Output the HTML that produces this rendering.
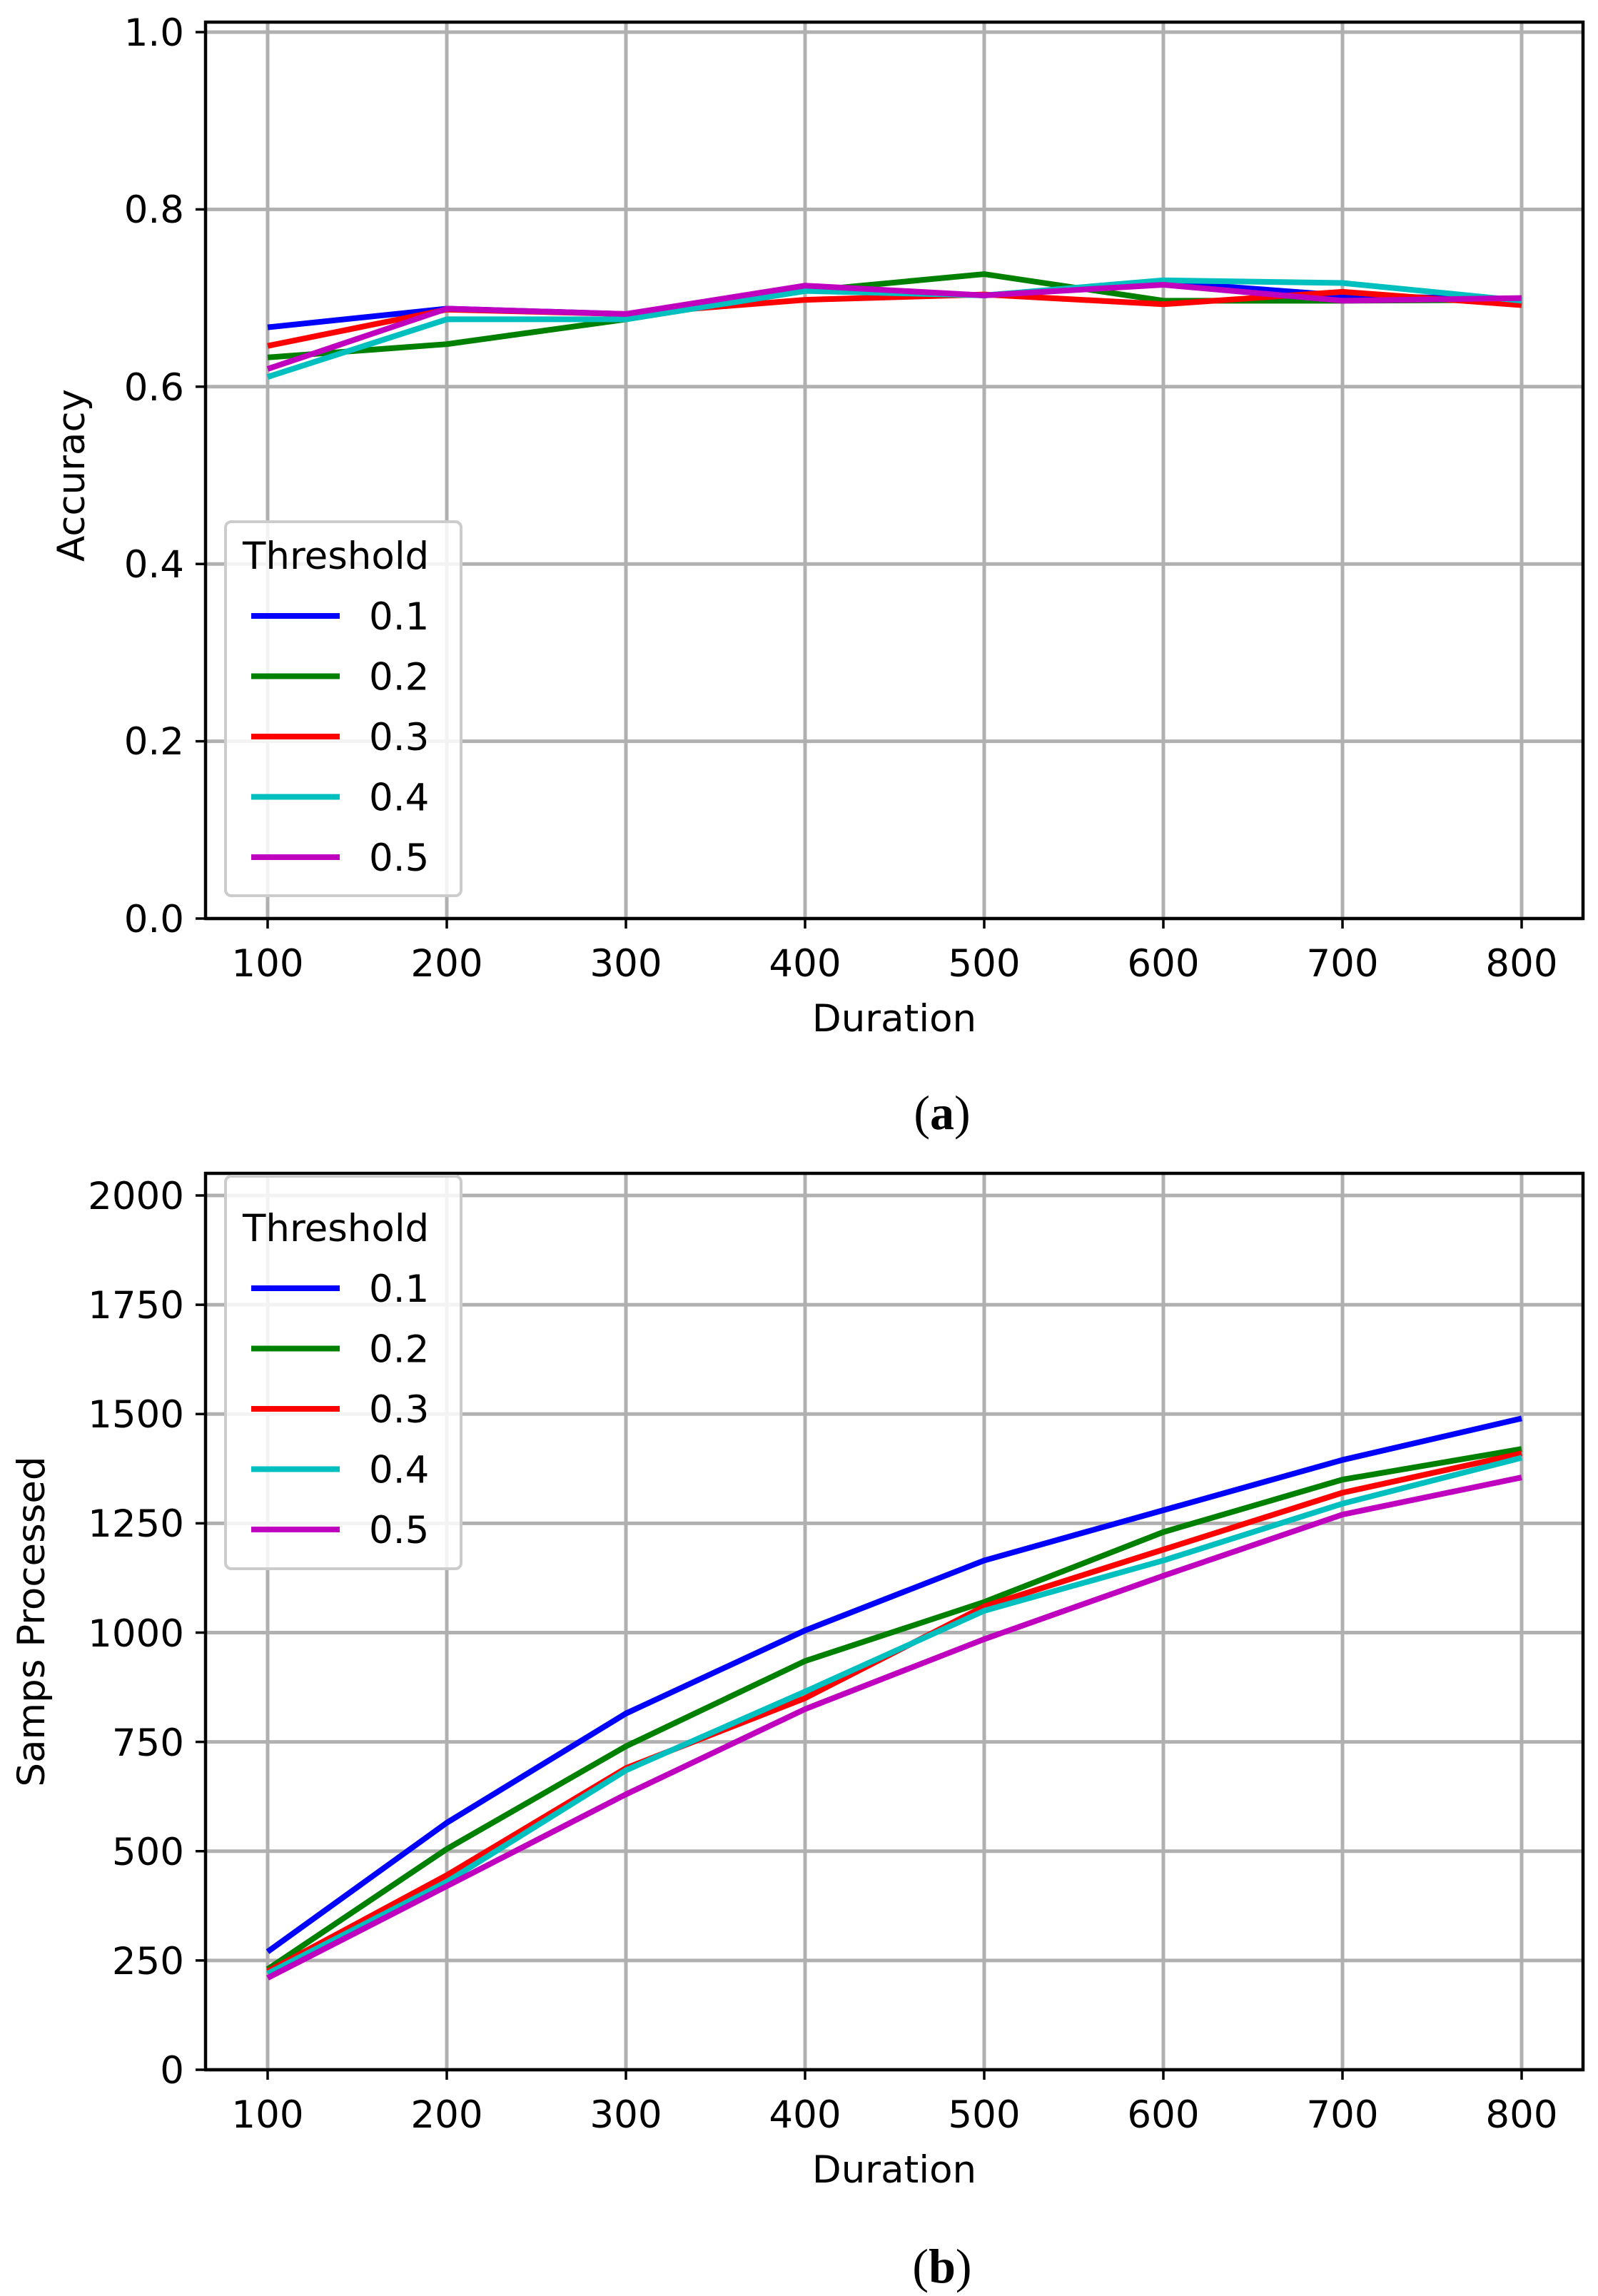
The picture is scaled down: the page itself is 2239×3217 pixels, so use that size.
<!DOCTYPE html>
<html><head><meta charset="utf-8"><style>
html,body{margin:0;padding:0;background:#fff;}
svg{display:block;}
text{font-family:"DejaVu Sans",sans-serif;fill:#000;}
.cap{font-family:"Liberation Serif",serif;font-size:68px;}
</style></head><body>
<svg id="s" width="2239" height="3217" viewBox="0 0 2239 3217" xmlns="http://www.w3.org/2000/svg">
<rect width="2239" height="3217" fill="#fff"/>
<g id="g1"></g>
<g id="g2"></g>
<g font-size="53" text-anchor="end">
<text x="258" y="1306">0.0</text>
<text x="258" y="1057">0.2</text>
<text x="258" y="809">0.4</text>
<text x="258" y="561">0.6</text>
<text x="258" y="312">0.8</text>
<text x="258" y="64">1.0</text>
</g>
<g font-size="53" text-anchor="middle">
<text x="375" y="1368">100</text><text x="626" y="1368">200</text><text x="877" y="1368">300</text><text x="1128" y="1368">400</text>
<text x="1379" y="1368">500</text><text x="1630" y="1368">600</text><text x="1881" y="1368">700</text><text x="2132" y="1368">800</text>
<text x="1253" y="1445">Duration</text>
</g>
<text font-size="53" text-anchor="middle" transform="translate(118,666) rotate(-90)">Accuracy</text>
<text x="1320" y="1582" class="cap" text-anchor="middle">(<tspan font-weight="bold">a</tspan>)</text>
<g font-size="53" text-anchor="end">
<text x="258" y="2919">0</text>
<text x="258" y="2766">250</text>
<text x="258" y="2613">500</text>
<text x="258" y="2460">750</text>
<text x="258" y="2307">1000</text>
<text x="258" y="2153">1250</text>
<text x="258" y="2000">1500</text>
<text x="258" y="1847">1750</text>
<text x="258" y="1694">2000</text>
</g>
<g font-size="53" text-anchor="middle">
<text x="375" y="2981">100</text><text x="626" y="2981">200</text><text x="877" y="2981">300</text><text x="1128" y="2981">400</text>
<text x="1379" y="2981">500</text><text x="1630" y="2981">600</text><text x="1881" y="2981">700</text><text x="2132" y="2981">800</text>
<text x="1253" y="3058">Duration</text>
</g>
<text font-size="53" text-anchor="middle" transform="translate(62,2272) rotate(-90)">Samps Processed</text>
<text x="1320" y="3198" class="cap" text-anchor="middle">(<tspan font-weight="bold">b</tspan>)</text>
</svg>
<script>
var NS="http://www.w3.org/2000/svg";
function el(p,t,a){var e=document.createElementNS(NS,t);for(var k in a)e.setAttribute(k,a[k]);p.appendChild(e);return e;}
var cols=["#0000ff","#008000","#ff0000","#00bfbf","#bf00bf"];
var labs=["0.1","0.2","0.3","0.4","0.5"];
function X(i){return 375+251*i;}
function plot(g,L,T,R,B,yt,yf,data,leg){
  for(var i=0;i<8;i++)el(g,"line",{x1:X(i),x2:X(i),y1:T,y2:B,stroke:"#b0b0b0","stroke-width":5});
  yt.forEach(function(v){var y=yf(v);el(g,"line",{x1:L,x2:R,y1:y,y2:y,stroke:"#b0b0b0","stroke-width":5});el(g,"line",{x1:L-14,x2:L,y1:y,y2:y,stroke:"#000","stroke-width":3.5});});
  for(var i=0;i<8;i++)el(g,"line",{x1:X(i),x2:X(i),y1:B,y2:B+14,stroke:"#000","stroke-width":3.5});
  data.forEach(function(d,k){el(g,"polyline",{points:d.map(function(v,i){return X(i)+","+yf(v);}).join(" "),fill:"none",stroke:cols[k],"stroke-width":8,"stroke-linejoin":"round"});});
  el(g,"rect",{x:L,y:T,width:R-L,height:B-T,fill:"none",stroke:"#000","stroke-width":4.5});
  el(g,"rect",{x:leg.x,y:leg.y,width:330,height:leg.h,rx:8,fill:"#fff","fill-opacity":0.85,stroke:"#ccc","stroke-width":4});
  var t=el(g,"text",{x:leg.x+24,y:leg.ty,"font-size":53});t.textContent="Threshold";
  for(var k=0;k<5;k++){var y=leg.ey+k*84.5;el(g,"line",{x1:352,x2:476,y1:y,y2:y,stroke:cols[k],"stroke-width":8});var tt=el(g,"text",{x:517,y:y+19,"font-size":53});tt.textContent=labs[k];}
}
plot(document.getElementById("g1"),288,31,2218,1287,[0,.2,.4,.6,.8,1],function(v){return 1287-v*1242;},
[[.667,.688,.682,.712,.703,.718,.703,.698],[.633,.648,.676,.708,.727,.697,.697,.698],[.646,.687,.682,.698,.704,.693,.707,.692],[.611,.676,.676,.708,.703,.720,.717,.697],[.620,.688,.682,.714,.703,.715,.697,.700]],
{x:316,y:731,h:524,ty:797,ey:863});
plot(document.getElementById("g2"),288,1644,2218,2900,[0,250,500,750,1000,1250,1500,1750,2000],function(v){return 2900-v*0.6125;},
[[270,565,815,1005,1165,1280,1395,1490],[230,505,740,935,1070,1230,1350,1420],[225,445,690,850,1060,1190,1320,1410],[220,430,685,865,1050,1165,1295,1400],[210,420,630,825,985,1130,1270,1355]],
{x:316,y:1648,h:550,ty:1739,ey:1805});
</script>
</body></html>
